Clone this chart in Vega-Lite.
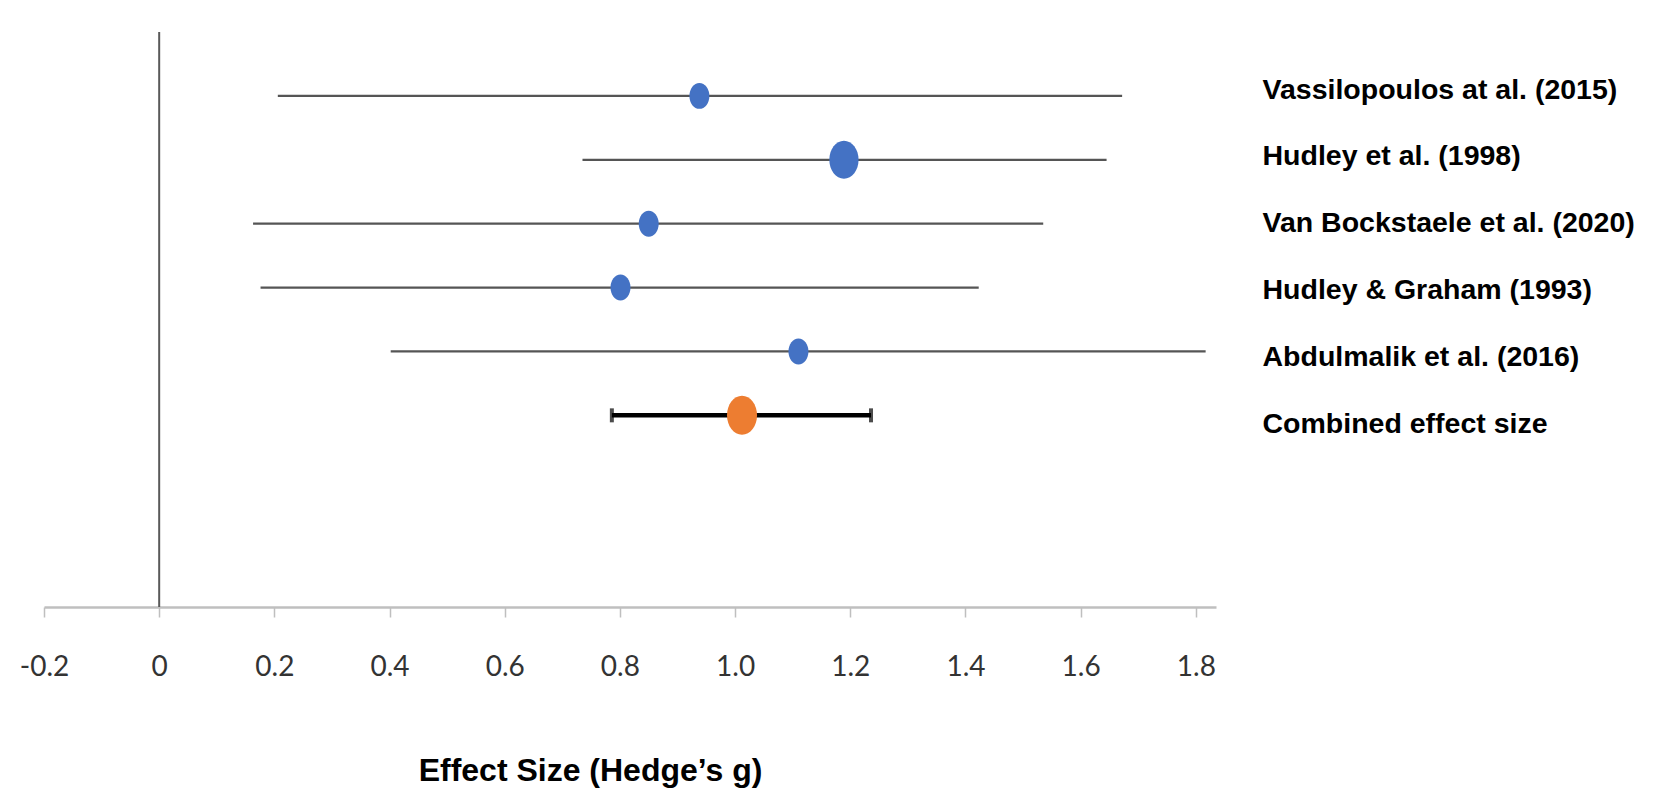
{
  "$schema": "https://vega.github.io/schema/vega-lite/v6.json",
  "autosize": "none",
  "width": 1172,
  "height": 575,
  "padding": {"left": 44, "top": 32, "right": 437, "bottom": 184},
  "background": "white",
  "config": {"view": {"stroke": null}},
  "datasets": {
    "studies": [
      {"study": "Vassilopoulos at al. (2015)", "g": 0.938, "lo": 0.206, "hi": 1.672, "weight": 14},
      {"study": "Hudley et al. (1998)", "g": 1.189, "lo": 0.735, "hi": 1.645, "weight": 30},
      {"study": "Van Bockstaele et al. (2020)", "g": 0.850, "lo": 0.163, "hi": 1.535, "weight": 14},
      {"study": "Hudley & Graham (1993)", "g": 0.801, "lo": 0.176, "hi": 1.423, "weight": 14},
      {"study": "Abdulmalik et al. (2016)", "g": 1.110, "lo": 0.402, "hi": 1.817, "weight": 14}
    ],
    "combined": [
      {"study": "Combined effect size", "g": 1.012, "lo": 0.786, "hi": 1.236}
    ],
    "labels": [
      {"study": "Vassilopoulos at al. (2015)", "g": 0.938},
      {"study": "Hudley et al. (1998)", "g": 1.189},
      {"study": "Van Bockstaele et al. (2020)", "g": 0.850},
      {"study": "Hudley & Graham (1993)", "g": 0.801},
      {"study": "Abdulmalik et al. (2016)", "g": 1.110},
      {"study": "Combined effect size", "g": 1.012}
    ],
    "reference": [
      {"ref": 0}
    ]
  },
  "resolve": {"scale": {"y": "independent"}, "axis": {"y": "independent"}},
  "layer": [
    {
      "encoding": {
        "y": {
          "field": "study",
          "type": "nominal",
          "sort": null,
          "scale": {
            "type": "point",
            "padding": 1,
            "domain": ["Vassilopoulos at al. (2015)", "Hudley et al. (1998)", "Van Bockstaele et al. (2020)", "Hudley & Graham (1993)", "Abdulmalik et al. (2016)", "Combined effect size", " ", "  "]
          },
          "axis": null
        }
      },
      "layer": [
        {
          "data": {"name": "reference"},
          "mark": {"type": "rule", "color": "#595959", "strokeWidth": 2},
          "encoding": {
            "x": {"field": "ref", "type": "quantitative"},
            "y": null
          }
        },
        {
          "data": {"name": "studies"},
          "mark": {"type": "rule", "color": "#555555", "strokeWidth": 2.2},
          "encoding": {
            "x": {
              "field": "lo",
              "type": "quantitative",
              "scale": {"domain": [-0.2, 1.835], "nice": false, "zero": false},
              "axis": {
                "values": [-0.2, 0, 0.2, 0.4, 0.6, 0.8, 1.0, 1.2, 1.4, 1.6, 1.8],
                "labelExpr": "datum.value == 0 ? '0' : (datum.value < 0 ? '-' + format(-datum.value, '.1f') : format(datum.value, '.1f'))",
                "grid": false,
                "domainColor": "#bfbfbf",
                "domainWidth": 2.5,
                "tickColor": "#bfbfbf",
                "tickWidth": 1.5,
                "tickSize": 10,
                "labelFont": "Lato",
                "labelFontSize": 28,
                "labelColor": "#333333",
                "labelBaseline": "middle",
                "labelPadding": 50,
                "labelFlush": false,
                "title": "Effect Size (Hedge’s g)",
                "titleFont": "Liberation Sans",
                "titleFontWeight": "bold",
                "titleFontSize": 32,
                "titleColor": "#000000",
                "titleBaseline": "middle",
                "titleX": 546,
                "titleY": 163
              }
            },
            "x2": {"field": "hi"}
          }
        },
        {
          "data": {"name": "studies"},
          "mark": {"type": "point", "filled": true, "opacity": 1, "color": "#4472C4", "shape": "M0,-1A0.77,1 0 1,1 0,1A0.77,1 0 1,1 0,-1Z"},
          "encoding": {
            "x": {"field": "g", "type": "quantitative"},
            "size": {"field": "weight", "type": "quantitative", "scale": {"domain": [0, 30], "range": [0, 1444]}, "legend": null}
          }
        },
        {
          "data": {"name": "combined"},
          "mark": {"type": "rule", "color": "#000000", "strokeWidth": 4.5},
          "encoding": {
            "x": {"field": "lo", "type": "quantitative"},
            "x2": {"field": "hi"}
          }
        },
        {
          "data": {"name": "combined"},
          "mark": {"type": "tick", "color": "#000000", "orient": "vertical", "size": 14, "thickness": 4},
          "encoding": {
            "x": {"field": "lo", "type": "quantitative"}
          }
        },
        {
          "data": {"name": "combined"},
          "mark": {"type": "tick", "color": "#000000", "orient": "vertical", "size": 14, "thickness": 4},
          "encoding": {
            "x": {"field": "hi", "type": "quantitative"}
          }
        },
        {
          "data": {"name": "combined"},
          "mark": {"type": "point", "filled": true, "opacity": 1, "color": "#ED7D31", "size": 1521, "shape": "M0,-1A0.77,1 0 1,1 0,1A0.77,1 0 1,1 0,-1Z"},
          "encoding": {
            "x": {"field": "g", "type": "quantitative"}
          }
        }
      ]
    },
    {
      "data": {"name": "labels"},
      "mark": {"type": "point", "opacity": 0, "size": 1},
      "encoding": {
        "x": {"field": "g", "type": "quantitative"},
        "y": {
          "field": "study",
          "type": "nominal",
          "sort": null,
          "scale": {
            "type": "point",
            "padding": 0.8,
            "align": 0.534,
            "domain": ["Vassilopoulos at al. (2015)", "Hudley et al. (1998)", "Van Bockstaele et al. (2020)", "Hudley & Graham (1993)", "Abdulmalik et al. (2016)", "Combined effect size", " ", "  "]
          },
          "axis": {
            "orient": "right",
            "title": null,
            "domain": false,
            "ticks": false,
            "grid": false,
            "labelPadding": 46,
            "labelAlign": "left",
            "labelBaseline": "middle",
            "labelFont": "Liberation Sans",
            "labelFontWeight": "bold",
            "labelFontSize": 28.5,
            "labelColor": "#000000",
            "labelLimit": 0
          }
        }
      }
    }
  ]
}
